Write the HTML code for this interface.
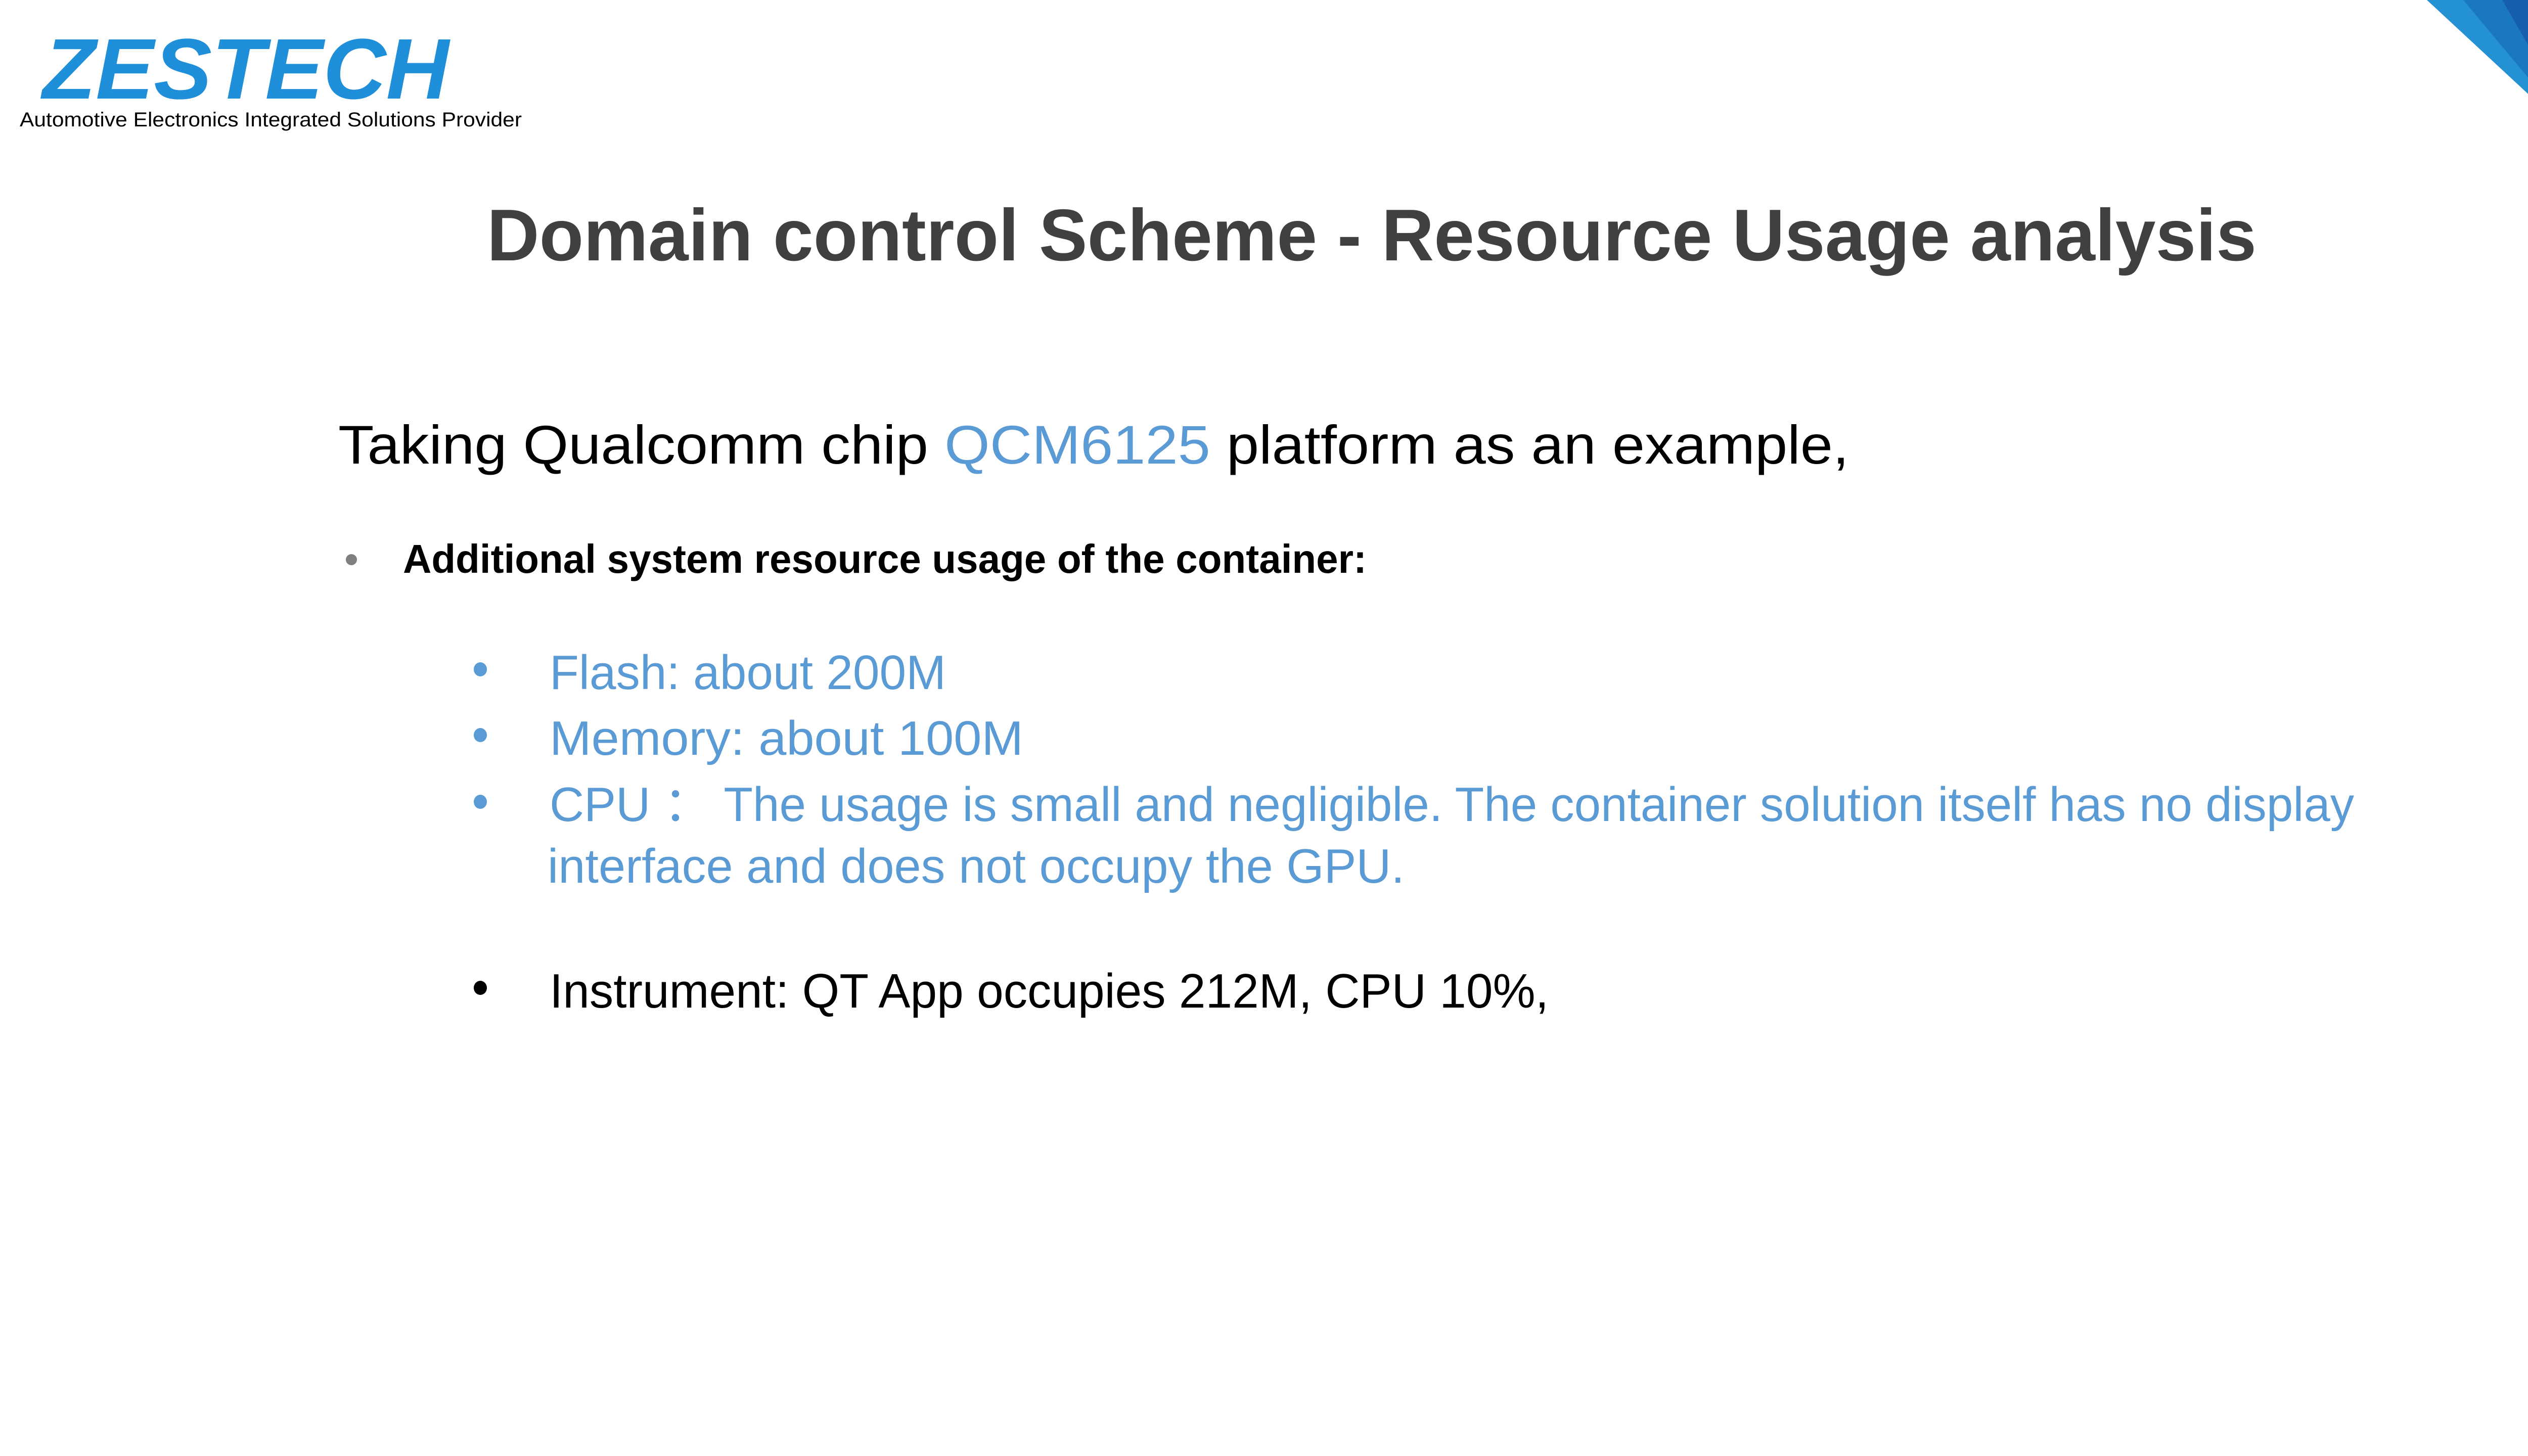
<!DOCTYPE html>
<html><head><meta charset="utf-8"><style>
html,body{margin:0;padding:0;background:#fff;}
svg{display:block;}
</style></head><body>
<svg width="5120" height="2880" viewBox="0 0 5120 2880" xmlns="http://www.w3.org/2000/svg" font-family="'Liberation Sans', sans-serif">
<rect width="5120" height="2880" fill="#fff"/>
<polygon points="4800,0 5120,0 5120,297" fill="#2391D2"/>
<polygon points="4872,0 5120,0 5120,297" fill="#1C78BE"/>
<polygon points="4949,0 5120,0 5120,297" fill="#165FAD"/>
<text x="84" y="195" font-size="170" font-weight="bold" font-style="italic" fill="#1E8FD8" textLength="804" lengthAdjust="spacingAndGlyphs">ZESTECH</text>
<text x="39" y="250" font-size="40" fill="#000" textLength="993" lengthAdjust="spacingAndGlyphs">Automotive Electronics Integrated Solutions Provider</text>
<text x="963" y="515" font-size="145" font-weight="bold" fill="#404040" textLength="3500" lengthAdjust="spacingAndGlyphs">Domain control Scheme - Resource Usage analysis</text>
<text x="669" y="917" font-size="108" fill="#000" textLength="2988" lengthAdjust="spacingAndGlyphs">Taking Qualcomm chip <tspan fill="#5B9BD5">QCM6125</tspan> platform as an example,</text>
<circle cx="695" cy="1107" r="11" fill="#7f7f7f"/>
<text x="797" y="1133" font-size="80" font-weight="bold" fill="#000" textLength="1906" lengthAdjust="spacingAndGlyphs">Additional system resource usage of the container:</text>
<g fill="#5B9BD5">
<ellipse cx="950" cy="1324" rx="13" ry="14"/>
<ellipse cx="950" cy="1454" rx="13" ry="14"/>
<ellipse cx="950" cy="1586" rx="13" ry="14"/>
</g>
<ellipse cx="950" cy="1954" rx="13" ry="14" fill="#000"/>
<g font-size="96" fill="#5B9BD5">
<text x="1087" y="1363" textLength="784" lengthAdjust="spacingAndGlyphs">Flash: about 200M</text>
<text x="1087" y="1493" textLength="937" lengthAdjust="spacingAndGlyphs">Memory: about 100M</text>
<text x="1087" y="1624" textLength="3569" lengthAdjust="spacingAndGlyphs">CPU ： The usage is small and negligible. The container solution itself has no display</text>
<text x="1083" y="1746" textLength="1695" lengthAdjust="spacingAndGlyphs">interface and does not occupy the GPU.</text>
</g>
<text x="1087" y="1993" font-size="96" fill="#000" textLength="1976" lengthAdjust="spacingAndGlyphs">Instrument: QT App occupies 212M, CPU 10%,</text>
</svg>
</body></html>
